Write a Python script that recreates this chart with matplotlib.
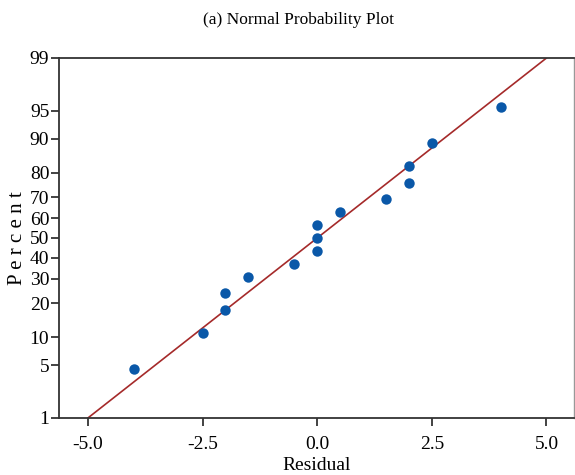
from statistics import NormalDist

import numpy as np
import matplotlib.pyplot as plt

# Залишки та відповідні відсотки
residuals = [-4.0, -2.5, -2.0, -2.0, -1.5, -0.5, 0.0, 0.0, 0.0, 0.5, 1.5, 2.0, 2.0, 2.5, 4.0]
percents = [4.5, 11.0, 17.5, 24.0, 30.5, 37.0, 43.5, 50.0, 56.5, 63.0, 69.5, 76.0, 82.5, 89.0, 95.5]

# Лінія підгонки
fit_x = [-5.0, 5.0]
fit_pct = [1, 99]

y_ticks = [1, 5, 10, 20, 30, 40, 50, 60, 70, 80, 90, 95, 99]
x_ticks = [-5.0, -2.5, 0.0, 2.5, 5.0]

nd = NormalDist()


def probit(p):
    return np.array([nd.inv_cdf(v / 100.0) for v in np.atleast_1d(p)])


plt.rcParams['font.family'] = ['Liberation Serif', 'DejaVu Serif']

fig = plt.figure(figsize=(5.75, 4.75), dpi=100)
ax = fig.add_axes([59 / 575, 57 / 475, 515 / 575, 360 / 475])

ax.plot(fit_x, probit(fit_pct), color='#a52a2a', linewidth=1.2, zorder=2)
ax.plot(residuals, probit(percents), 'o', color='#0a58a8', markersize=7.5,
        markeredgewidth=0, zorder=3)

ax.set_xlim(-5.63, 5.6)
ax.set_ylim(probit(1)[0], probit(99)[0])
ax.set_xticks(x_ticks)
ax.set_xticklabels([f'{v:.1f}' for v in x_ticks])
ax.set_yticks(probit(y_ticks))
ax.set_yticklabels([str(v) for v in y_ticks])
ax.tick_params(axis='both', labelsize=14, length=6, width=1.2, color='#222222',
               direction='out', pad=1)
ax.tick_params(axis='x', pad=7)

for side in ['left', 'bottom', 'top']:
    ax.spines[side].set_color('#333333')
    ax.spines[side].set_linewidth(1.3)
ax.spines['right'].set_color('#999999')
ax.spines['right'].set_linewidth(1.0)

ax.set_xlabel('Residual', fontsize=14, va='center')
ax.xaxis.set_label_coords(0.5, -47 / 360)
ax.set_ylabel('P e r c e n t', fontsize=15, va='center')
ax.yaxis.set_label_coords(-41 / 515, 0.5)
fig.text(298 / 575, 1 - 20 / 475, '(a) Normal Probability Plot', fontsize=12.5,
         ha='center', va='center')

fig.savefig('out.png', dpi=100)
